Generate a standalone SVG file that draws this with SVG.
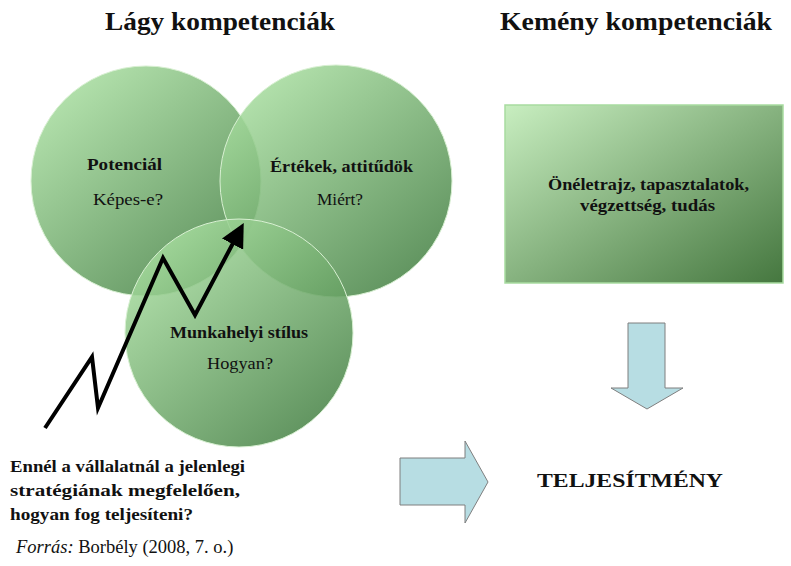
<svg xmlns="http://www.w3.org/2000/svg" width="791" height="566" viewBox="0 0 791 566">
<defs>
<linearGradient id="gc" x1="0.15" y1="0.1" x2="0.85" y2="0.95">
<stop offset="0" stop-color="#a6dc9e"/>
<stop offset="1" stop-color="#437f42"/>
</linearGradient>
<linearGradient id="gr" x1="0" y1="0" x2="1" y2="1">
<stop offset="0" stop-color="#c8eec0"/>
<stop offset="1" stop-color="#45773f"/>
</linearGradient>
<marker id="ah" markerWidth="6" markerHeight="6" refX="4" refY="3" orient="auto" markerUnits="strokeWidth">
<path d="M0,0 L6,3 L0,6 z" fill="#000"/>
</marker>
<style>
text{font-family:"Liberation Serif","DejaVu Serif",serif;fill:#111;}
.h{font-size:26px;font-weight:bold;}
.b{font-size:16px;font-weight:bold;}
.r{font-size:16px;}
.q{font-size:17px;font-weight:bold;}
.circ{fill:url(#gc);fill-opacity:0.86;stroke:#d8f0d2;stroke-width:1;}
.blk{fill:#b7dde3;stroke:#7f7f7f;stroke-width:1;}
</style>
</defs>
<rect width="791" height="566" fill="#fff"/>
<text class="h" x="105" y="30" textLength="230" lengthAdjust="spacingAndGlyphs">Lágy kompetenciák</text>
<text class="h" x="500" y="30" textLength="272" lengthAdjust="spacingAndGlyphs">Kemény kompetenciák</text>
<g id="potencial">
<circle class="circ" cx="146" cy="181" r="115"/>
<text class="b" x="87" y="170" textLength="75" lengthAdjust="spacingAndGlyphs">Potenciál</text>
<text class="r" x="93" y="205" textLength="70" lengthAdjust="spacingAndGlyphs">Képes-e?</text>
</g>
<g id="ertekek">
<circle class="circ" cx="336" cy="181" r="116"/>
<text class="b" x="270" y="172" textLength="143" lengthAdjust="spacingAndGlyphs">Értékek, attitűdök</text>
<text class="r" x="317" y="205" textLength="46" lengthAdjust="spacingAndGlyphs">Miért?</text>
</g>
<g id="munkahelyi">
<circle class="circ" cx="239" cy="333" r="114"/>
<text class="b" x="170" y="338" textLength="138" lengthAdjust="spacingAndGlyphs">Munkahelyi stílus</text>
<text class="r" x="207" y="369" textLength="66" lengthAdjust="spacingAndGlyphs">Hogyan?</text>
</g>
<g id="kemeny">
<rect x="505" y="105" width="278" height="178" fill="url(#gr)" stroke="#a8dca0" stroke-width="1.5"/>
<text class="b" x="548" y="190" textLength="201" lengthAdjust="spacingAndGlyphs">Önéletrajz, tapasztalatok,</text>
<text class="b" x="580" y="211" textLength="135" lengthAdjust="spacingAndGlyphs">végzettség, tudás</text>
</g>
<g id="teljesitmeny">
<text x="537" y="487" font-size="19" font-weight="bold" textLength="186" lengthAdjust="spacingAndGlyphs">TELJESÍTMÉNY</text>
</g>
<g id="kerdes">
<text class="q" x="10" y="472" textLength="235" lengthAdjust="spacingAndGlyphs">Ennél a vállalatnál a jelenlegi</text>
<text class="q" x="10" y="496" textLength="230" lengthAdjust="spacingAndGlyphs">stratégiának megfelelően,</text>
<text class="q" x="10" y="520" textLength="183" lengthAdjust="spacingAndGlyphs">hogyan fog teljesíteni?</text>
</g>
<g id="connectors">
<polyline points="45,428 92,357 98,408 163,258 195,315 240,230" fill="none" stroke="#000" stroke-width="4" stroke-linejoin="miter" marker-end="url(#ah)"/>
<path class="blk" d="M628,323 H665 V388 H683 L647,409 L611,388 H628 Z"/>
<path class="blk" d="M400,458 H465 V441 L488,482 L465,523 V505 H400 Z"/>
</g>
<text x="16" y="553" font-size="18.5"><tspan font-style="italic">Forrás:</tspan> Borbély (2008, 7. o.)</text>
</svg>
